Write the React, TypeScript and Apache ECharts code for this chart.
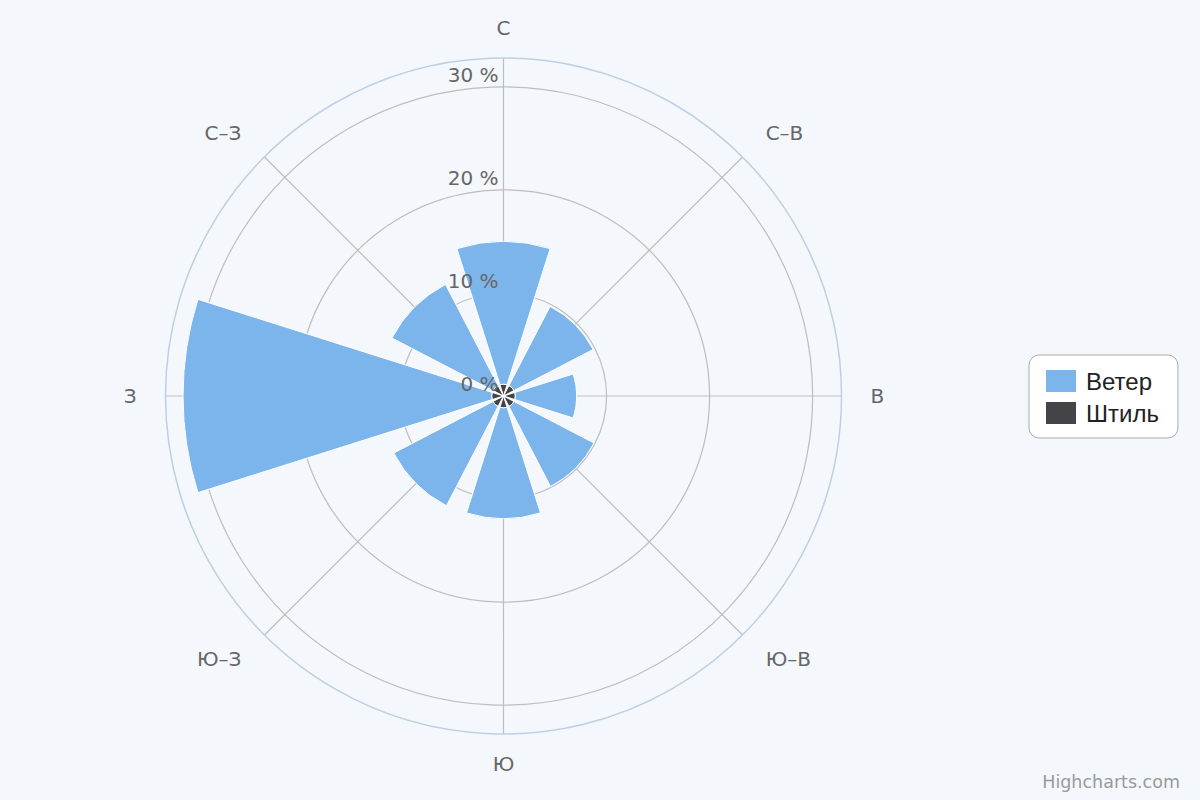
import React, { useEffect, useRef } from "react";
import * as echarts from "echarts";

const directions = ["С", "С–В", "В", "Ю–В", "Ю", "Ю–З", "З", "С–З"];
const windValues = [13.85, 8.65, 5.95, 8.75, 10.75, 10.85, 29.95, 11.05];
const calmValues = [1.15, 1.15, 1.15, 1.15, 1.15, 1.15, 1.15, 1.15];
const radiusMax = 32.8;
const radiusTickStep = 10;
const seriesNames = ["Ветер", "Штиль"];
const seriesColors = ["#7cb5ec", "#434348"];
const creditText = "Highcharts.com";

export default function App() {
  const ref = useRef<HTMLDivElement>(null);
  useEffect(() => {
    if (!ref.current) return;
    const chart = echarts.init(ref.current, undefined, { renderer: "svg" });
    const center = [503.5, 396];
    const radius = 338;
    const axisFont = "DejaVu Sans";
    const gridColor = "#bdbdbd";
    chart.setOption({
      animation: false,
      backgroundColor: "#f4f8fc",
      polar: [
        { center, radius },
        { center, radius },
        { center, radius },
      ],
      angleAxis: [
        {
          polarIndex: 0,
          type: "value",
          min: 0,
          max: 360,
          interval: 45,
          startAngle: 90,
          clockwise: true,
          axisLine: { show: true, lineStyle: { color: "#bfcfe3", width: 1.5 } },
          axisTick: { show: false },
          axisLabel: { show: false },
          splitLine: { show: true, lineStyle: { color: gridColor, width: 1.2 } },
          z: 0,
        },
        {
          polarIndex: 1,
          type: "category",
          data: directions,
          startAngle: 112.5,
          clockwise: true,
          axisLine: { show: false },
          axisTick: { show: false },
          splitLine: { show: false },
          axisLabel: {
            show: true,
            margin: 20,
            color: "#666666",
            fontSize: 20,
            fontFamily: axisFont,
            padding: [0, 9, 0, 9],
          },
        },
        {
          polarIndex: 2,
          type: "value",
          min: 0,
          max: 360,
          startAngle: 90,
          axisLine: { show: false },
          axisTick: { show: false },
          axisLabel: { show: false },
          splitLine: { show: false },
        },
      ],
      radiusAxis: [
        {
          polarIndex: 0,
          type: "value",
          min: 0,
          max: radiusMax,
          interval: radiusTickStep,
          axisLine: { show: false },
          axisTick: { show: false },
          axisLabel: { show: false },
          splitLine: {
            show: true,
            lineStyle: {
              color: [gridColor, gridColor, gridColor, gridColor, "rgba(0,0,0,0)"],
              width: 1.2,
            },
          },
          z: 0,
        },
        {
          polarIndex: 1,
          type: "value",
          min: 0,
          max: radiusMax,
          interval: radiusTickStep,
          axisLine: { show: false },
          axisTick: { show: false },
          axisLabel: { show: false },
          splitLine: { show: false },
        },
        {
          polarIndex: 2,
          type: "value",
          min: 0,
          max: radiusMax,
          interval: radiusTickStep,
          z: 10,
          axisLine: { show: false },
          axisTick: { show: false },
          splitLine: { show: false },
          axisLabel: {
            show: true,
            showMaxLabel: false,
            margin: 5,
            verticalAlign: "bottom",
            padding: [0, 0, 2, 0],
            color: "#666666",
            fontSize: 20,
            fontFamily: axisFont,
            formatter: (v: number) =>
              Math.abs(v % radiusTickStep) < 1e-6 ? `${v} %` : "",
          },
        },
      ],
      legend: {
        orient: "vertical",
        left: 1029,
        top: 355,
        padding: [13, 19, 12, 15],
        itemWidth: 32,
        itemHeight: 24,
        itemGap: 6,
        icon: "rect",
        backgroundColor: "#ffffff",
        borderColor: "#aaaaaa",
        borderWidth: 1,
        borderRadius: 10,
        data: seriesNames,
        textStyle: {
          fontSize: 24,
          fontFamily: "Liberation Sans",
          color: "#222222",
          padding: [0, 0, 0, 4],
        },
      },
      graphic: [
        {
          type: "text",
          right: 20,
          top: 773,
          style: {
            text: creditText,
            fontSize: 17.5,
            fontFamily: axisFont,
            fill: "#999999",
          },
        },
      ],
      series: [
        {
          name: seriesNames[1],
          type: "bar",
          coordinateSystem: "polar",
          polarIndex: 1,
          stack: "wind",
          data: calmValues,
          barCategoryGap: "22%",
          itemStyle: { color: seriesColors[1], borderColor: "#ffffff", borderWidth: 1 },
        },
        {
          name: seriesNames[0],
          type: "bar",
          coordinateSystem: "polar",
          polarIndex: 1,
          stack: "wind",
          data: windValues,
          barCategoryGap: "22%",
          itemStyle: { color: seriesColors[0], borderColor: "#ffffff", borderWidth: 1 },
        },
      ],
    });
    return () => chart.dispose();
  }, []);
  return (
    <div
      ref={ref}
      style={{ position: "absolute", left: 0, top: 0, width: 1200, height: 800 }}
    />
  );
}
